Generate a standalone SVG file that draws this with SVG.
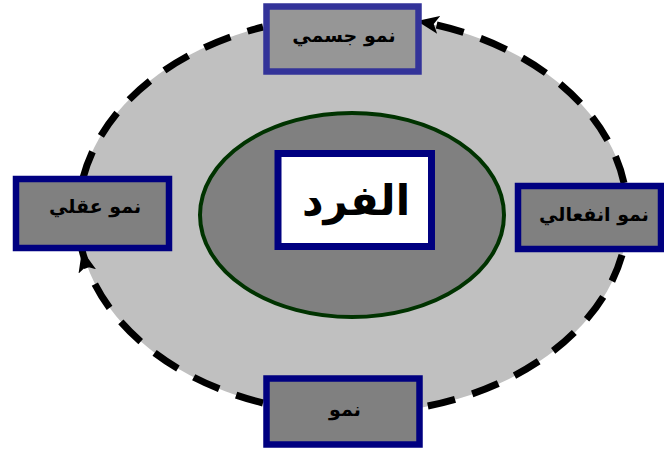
<svg xmlns="http://www.w3.org/2000/svg" width="664" height="453" viewBox="0 0 664 453">
<style>
.conn{fill:none;stroke:#000;stroke-width:7;stroke-dasharray:28 18}
.box{fill:#808080;stroke:#000080;stroke-width:6.5}
.lbl{font-family:"DejaVu Sans",sans-serif;font-weight:bold;font-size:19px;fill:#000;text-anchor:middle}
</style>
<defs>
<marker id="ah" markerUnits="userSpaceOnUse" markerWidth="24" markerHeight="20" viewBox="0 0 24 20" refX="22" refY="9" orient="auto">
<path d="M0,0 L22,9 L0,18 L5,9 z" fill="#000"/>
</marker>
</defs>
<rect width="664" height="453" fill="#fff"/>
<ellipse id="outer" cx="353" cy="215" rx="275" ry="199" fill="#c0c0c0"/>
<g id="connectors">
<path class="conn" d="M624,183 A275,199 0 0 0 417,21" marker-end="url(#ah)"/>
<path class="conn" d="M622,255 A275,199 0 0 1 423,407"/>
<path class="conn" d="M263,403 A275,199 0 0 1 82,250" marker-end="url(#ah)"/>
<path class="conn" d="M83,178 A275,199 0 0 1 263,27"/>
</g>
<g id="inner">
<ellipse cx="352" cy="215" rx="152" ry="102" fill="#808080" stroke="#003300" stroke-width="4"/>
</g>
<g id="center">
<rect x="278" y="153.5" width="153.5" height="93" fill="#fff" stroke="#000080" stroke-width="7"/>
<text x="356" y="215" class="lbl" style="font-size:42px">الفرد</text>
</g>
<g id="top">
<rect x="266.5" y="6.5" width="152" height="65" fill="#969696" stroke="#333399" stroke-width="6.5"/>
<text x="344" y="42" class="lbl">نمو جسمي</text>
</g>
<g id="left">
<rect class="box" x="16" y="179" width="153" height="69"/>
<text x="95" y="213" class="lbl">نمو عقلي</text>
</g>
<g id="right">
<rect class="box" x="518" y="186" width="143" height="63"/>
<text x="594" y="221" class="lbl">نمو انفعالي</text>
</g>
<g id="bottom">
<rect class="box" x="266.5" y="378.5" width="153" height="66"/>
<text x="345" y="416" class="lbl">نمو</text>
</g>
</svg>
